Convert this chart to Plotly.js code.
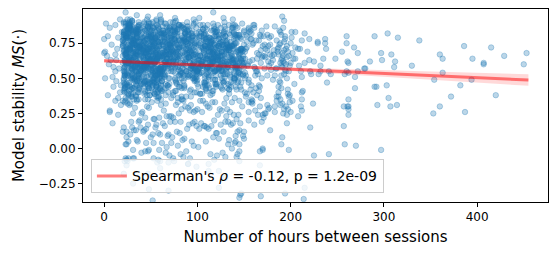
<!DOCTYPE html>
<html>
<head>
<meta charset="utf-8">
<script src="https://cdn.plot.ly/plotly-3.0.1.min.js"></script>
<style>html,body{margin:0;padding:0;background:#fff;}#chart{width:557px;height:255px;}</style>
</head>
<body>
<div id="chart"></div>
<script>
// ---- scatter values (hours between sessions, model stability) ----
const hoursA = [
23,31,27,35,21,38,29,25,33,22,36,28,24,39,30,26,34,21,37,32,
26,22,34,29,40,24,31,20,37,27,33,23,41,28,35,25,30,38,22,36,
30,37,24,21,33,28,39,26,23,35,29,41,22,32,27,36,20,34,25,31,
35,27,22,38,25,31,23,36,28,40,21,33,26,37,24,30,39,23,32,28,
21,33,36,26,30,23,35,39,24,29,37,22,32,25,38,27,34,31,20,26,
28,24,31,37,22,34,27,21,38,25,30,36,23,33,29,40,26,35,22,39,
33,39,25,23,36,21,32,28,35,30,24,38,27,22,34,31,37,24,29,21,
24,30,38,32,27,36,22,33,26,39,28,25,35,31,21,37,23,29,34,40,
37,21,29,34,24,27,40,31,22,36,25,32,30,38,26,23,35,28,33,24,
22,35,33,27,39,30,26,37,32,23,34,29,21,36,28,38,25,31,24,35,
31,26,23,40,28,33,37,24,29,34,22,39,27,30,36,21,32,25,38,27,
38,29,35,25,31,22,28,34,39,26,32,24,36,21,33,30,27,37,23,29];
const stabA = [
.62,.81,.47,.73,.55,.88,.39,.67,.77,.52,.84,.44,.70,.59,.91,.36,.64,.79,.50,.75,
.71,.58,.83,.42,.66,.53,.78,.61,.35,.86,.49,.74,.57,.80,.45,.69,.90,.54,.63,.40,
.56,.76,.64,.89,.48,.72,.60,.38,.82,.68,.51,.79,.43,.65,.87,.58,.74,.46,.85,.69,
.80,.45,.70,.57,.92,.63,.51,.85,.66,.74,.41,.59,.88,.53,.72,.37,.78,.62,.55,.83,
.49,.67,.87,.61,.75,.34,.82,.56,.71,.63,.90,.52,.77,.44,.60,.84,.68,.39,.73,.58,
.65,.54,.77,.83,.40,.69,.88,.47,.59,.79,.57,.72,.36,.86,.64,.50,.61,.81,.46,.76,
.74,.86,.52,.68,.60,.81,.43,.72,.55,.91,.66,.48,.79,.62,.38,.75,.53,.70,.84,.57,
.58,.43,.73,.50,.84,.61,.76,.65,.89,.46,.71,.82,.54,.68,.78,.42,.87,.60,.67,.51,
.83,.70,.60,.78,.47,.88,.56,.74,.42,.67,.80,.35,.63,.73,.52,.89,.48,.77,.59,.66,
.53,.79,.44,.65,.72,.57,.85,.50,.69,.61,.37,.76,.83,.58,.92,.64,.45,.71,.80,.62,
.68,.61,.90,.46,.82,.74,.40,.79,.57,.84,.63,.55,.73,.49,.66,.81,.59,.86,.42,.70,
.77,.50,.66,.86,.59,.45,.71,.55,.81,.39,.75,.68,.48,.90,.56,.73,.62,.52,.78,.85];

const hoursB = [
45,52,48,58,43,55,50,61,46,53,57,44,49,60,51,47,56,42,54,59,
50,44,57,47,53,61,45,49,55,42,58,51,46,54,60,48,43,56,52,47,
55,60,43,51,46,49,58,53,44,57,47,52,61,45,50,56,48,54,42,59,
47,56,53,44,60,51,42,57,49,54,45,59,50,43,55,61,46,52,58,48,
58,49,46,54,50,43,56,45,60,48,52,42,55,57,44,51,59,47,53,50,
43,53,59,49,56,47,52,60,42,51,55,46,58,48,54,44,50,57,45,61,
52,47,55,60,44,58,48,43,54,59,50,56,45,51,62,53,42,49,57,46,
60,54,42,46,52,55,61,50,47,44,56,49,53,58,43,59,51,45,48,55,
49,58,51,43,57,45,54,47,52,61,44,53,48,56,50,42,60,55,46,51,
54,42,60,52,48,59,44,56,50,46,53,57,43,47,58,49,55,61,44,52,
46,51,49,57,42,54,59,48,56,50,61,44,52,55,46,58,47,43,60,53];
const stabB = [
.59,.77,.43,.70,.85,.52,.66,.91,.48,.73,.62,.80,.38,.68,.56,.87,.45,.75,.64,.54,
.82,.48,.67,.58,.74,.41,.88,.63,.53,.79,.36,.71,.60,.84,.50,.69,.77,.44,.90,.57,
.66,.55,.89,.76,.46,.69,.57,.81,.72,.40,.64,.86,.52,.59,.78,.47,.83,.61,.70,.37,
.44,.72,.60,.84,.53,.79,.65,.49,.87,.61,.75,.56,.83,.47,.68,.92,.58,.73,.42,.80,
.76,.63,.51,.39,.81,.58,.73,.68,.42,.90,.55,.46,.79,.71,.35,.62,.50,.86,.67,.74,
.51,.86,.74,.62,.69,.35,.54,.77,.64,.48,.83,.70,.57,.89,.61,.44,.72,.53,.81,.66,
.70,.41,.80,.54,.63,.87,.47,.60,.75,.66,.52,.91,.68,.43,.82,.57,.65,.78,.49,.85,
.63,.78,.56,.92,.45,.67,.82,.53,.71,.57,.88,.62,.40,.76,.59,.73,.84,.48,.68,.52,
.85,.53,.69,.47,.78,.60,.39,.87,.56,.81,.67,.50,.74,.63,.89,.55,.43,.70,.61,.77,
.48,.68,.82,.66,.57,.76,.61,.44,.80,.52,.71,.84,.58,.65,.46,.79,.62,.90,.54,.73,
.74,.60,.46,.80,.71,.50,.85,.64,.37,.69,.58,.77,.87,.55,.72,.41,.66,.59,.83,.49];

const hoursC = [
65,72,68,80,63,76,70,84,66,74,79,64,71,82,69,77,62,75,81,67,
70,64,78,67,83,73,66,80,62,76,69,85,72,65,79,68,74,63,81,71,
76,81,63,73,66,70,84,68,77,64,82,71,67,75,62,79,72,86,65,74,
68,77,74,64,80,62,72,66,83,70,75,63,78,69,84,73,65,80,71,76,
82,69,66,76,71,79,64,74,68,85,63,77,70,81,67,72,78,62,75,66,
63,74,81,70,65,84,76,62,73,67,78,72,64,80,75,66,83,69,77,71,
73,66,71,83,76,68,80,65,79,72,62,74,81,67,70,85,63,77,68,79,
79,84,65,69,74,63,67,78,71,81,66,70,76,64,82,74,69,73,62,80];
const stabC = [
.61,.79,.45,.72,.56,.86,.50,.68,.83,.40,.74,.63,.90,.53,.77,.47,.66,.81,.58,.70,
.75,.52,.84,.64,.43,.70,.60,.88,.55,.78,.67,.48,.73,.62,.85,.57,.38,.76,.65,.82,
.50,.67,.73,.58,.89,.62,.77,.45,.69,.82,.54,.75,.59,.86,.41,.71,.80,.63,.52,.68,
.84,.60,.55,.79,.66,.48,.72,.81,.37,.64,.87,.57,.70,.44,.76,.62,.53,.88,.69,.58,
.66,.80,.62,.49,.74,.83,.57,.63,.76,.52,.68,.91,.46,.72,.60,.81,.65,.55,.78,.43,
.57,.73,.88,.68,.51,.61,.85,.70,.59,.79,.46,.64,.82,.56,.74,.67,.50,.71,.63,.87,
.78,.46,.65,.54,.82,.71,.44,.76,.63,.57,.80,.69,.52,.87,.60,.73,.84,.41,.75,.64,
.69,.57,.76,.85,.60,.53,.67,.80,.72,.47,.62,.74,.83,.66,.55,.90,.59,.70,.48,.77];

const hoursD = [
88,95,91,102,86,99,93,106,89,97,104,87,94,100,90,98,107,92,101,96,
93,87,100,90,105,96,88,103,94,86,99,108,91,97,102,89,95,106,92,98,
99,104,86,95,89,92,107,97,101,87,94,90,103,98,86,105,93,100,88,96,
91,98,106,87,102,88,95,90,98,104,86,101,93,107,96,92,99,87,103,94,
105,90,97,93,99,101,87,94,106,91,102,96,88,104,92,100,86,97,95,89,
87,101,94,104,92,86,103,99,91,95,89,97,106,93,88,102,96,90,100,107];
const stabD = [
.64,.52,.81,.70,.45,.76,.59,.88,.67,.55,.73,.62,.84,.49,.78,.57,.69,.41,.74,.61,
.77,.68,.55,.83,.62,.50,.71,.66,.79,.43,.86,.58,.65,.75,.53,.80,.60,.72,.56,.90,
.53,.80,.69,.59,.87,.64,.47,.74,.61,.82,.57,.70,.39,.67,.85,.62,.76,.55,.64,.72,
.72,.58,.63,.76,.54,.85,.66,.51,.73,.60,.78,.44,.69,.81,.58,.74,.48,.83,.66,.59,
.60,.75,.48,.66,.79,.57,.82,.70,.44,.68,.63,.89,.55,.72,.61,.46,.77,.65,.80,.52,
.82,.63,.73,.54,.69,.77,.58,.62,.85,.50,.74,.67,.59,.42,.71,.80,.63,.87,.56,.68];

const hoursE = [
110,117,113,124,108,121,115,128,111,119,126,109,116,122,112,120,129,114,123,118,
115,109,122,112,127,118,110,125,116,108,121,130,113,119,124,111,117,128,114,120,
121,126,108,117,111,114,129,119,123,109,116,112,125,120,108,127,115,122,110,118,
113,120,128,109,124,110,117,112,120,126,108,123,115,129,118,114,121,109,125,116,
127,112,119,115,121,123,109,116,128,113,124,118,110,126,114,122,108,119,117,111,
109,123,116,126,114,108,125,121,113,117,111,119,128,115,110,124,118,112,122,129,
118,111,125,120,109,127,113,108,119,122,115,126,112,117,123,110,129,116,121,114];
const stabE = [
.66,.54,.79,.71,.47,.83,.60,.74,.88,.56,.69,.42,.77,.63,.51,.81,.67,.58,.73,.85,
.59,.76,.64,.52,.81,.68,.45,.86,.62,.73,.57,.80,.66,.49,.75,.61,.84,.53,.70,.65,
.80,.62,.50,.69,.58,.74,.87,.55,.78,.64,.39,.72,.59,.83,.67,.48,.76,.63,.57,.71,
.56,.72,.83,.61,.75,.53,.67,.79,.46,.70,.82,.58,.64,.90,.55,.73,.60,.77,.44,.68,
.74,.49,.67,.78,.63,.57,.71,.64,.82,.43,.69,.61,.85,.56,.72,.66,.52,.80,.62,.76,
.63,.81,.57,.74,.69,.86,.52,.68,.60,.77,.54,.83,.47,.71,.64,.58,.75,.69,.88,.51,
.70,.58,.76,.45,.65,.61,.79,.73,.55,.67,.84,.50,.72,.62,.78,.57,.66,.41,.74,.60];

const hoursF = [
132,139,135,146,130,143,137,150,133,141,148,131,138,144,134,142,151,136,145,140,
137,131,144,134,149,140,132,147,138,130,143,152,135,141,146,133,139,150,136,142,
143,148,130,139,133,136,151,141,145,131,138,134,147,142,130,149,137,144,132,140,
135,142,150,131,146,132,139,134,142,148,130,145,137,151,140,136,143,131,147,138,
149,134,141,137,143,145,131,138,150,135,146,140,132,148,136,144,130,141,139,133];
const stabF = [
.62,.78,.51,.70,.85,.57,.66,.74,.46,.81,.59,.68,.88,.54,.72,.63,.40,.76,.67,.58,
.73,.55,.68,.82,.60,.49,.77,.64,.71,.57,.86,.52,.65,.79,.44,.70,.61,.83,.56,.75,
.57,.69,.80,.48,.73,.66,.54,.87,.61,.75,.63,.42,.78,.59,.71,.52,.84,.65,.74,.50,
.81,.64,.58,.76,.53,.71,.83,.45,.69,.62,.77,.56,.67,.50,.80,.74,.59,.72,.47,.86,
.66,.72,.44,.63,.79,.55,.70,.61,.84,.52,.68,.75,.58,.89,.64,.48,.73,.57,.82,.60];

const hoursG = [
27,44,33,58,21,49,38,61,25,53,30,46,36,57,23,41,51,34,60,29,
39,24,55,31,47,22,59,35,43,28,52,37,62,26,48,32,56,20,45,40,
50,36,23,42,61,29,46,33,54,21,39,58,27,44,35,53,24,49,31,57,
32,57,47,26,38,54,20,43,29,60,34,48,22,55,40,27,45,59,36,23,
56,30,40,52,25,37,48,21,58,44,26,33,51,38,61,46,28,42,54,35,
21,51,62,37,55,43,31,50,40,24,57,29,45,34,20,60,39,26,48,44,
44,28,35,60,30,58,25,54,33,47,22,61,38,50,27,36,53,31,41,56,
35,61,27,45,52,23,42,57,20,38,49,31,59,24,46,33,62,37,55,28,
59,40,50,22,43,34,56,26,47,32,61,39,24,52,30,57,21,45,28,50,
26,47,56,34,62,41,29,37,52,45,23,55,30,43,58,22,48,35,60,38];
const stabG = [
.63,.75,.58,.81,.69,.47,.72,.56,.85,.66,.52,.78,.61,.70,.44,.83,.59,.74,.67,.55,
.71,.60,.79,.50,.66,.84,.57,.73,.63,.89,.48,.69,.76,.54,.81,.62,.45,.77,.68,.58,
.56,.82,.67,.73,.46,.62,.78,.69,.53,.75,.60,.86,.65,.41,.72,.57,.80,.64,.51,.88,
.77,.53,.70,.62,.85,.59,.66,.48,.74,.57,.82,.64,.55,.79,.69,.90,.61,.51,.76,.67,
.68,.87,.55,.76,.61,.72,.43,.83,.65,.59,.74,.51,.80,.62,.57,.70,.86,.66,.47,.79,
.50,.64,.74,.88,.57,.68,.81,.60,.71,.46,.63,.77,.58,.84,.73,.55,.69,.82,.62,.40,
.84,.70,.49,.65,.78,.54,.61,.75,.58,.80,.67,.45,.72,.63,.87,.52,.76,.59,.70,.64,
.60,.58,.86,.71,.52,.80,.69,.64,.77,.43,.73,.83,.56,.68,.61,.79,.50,.72,.65,.84,
.73,.79,.63,.54,.90,.66,.52,.71,.60,.85,.58,.68,.79,.47,.75,.64,.82,.56,.88,.62,
.65,.45,.77,.83,.64,.73,.59,.87,.49,.69,.81,.62,.53,.76,.66,.58,.71,.85,.57,.74];

const hoursH = [
66,88,109,131,74,97,120,143,70,102,126,81,115,138,92,64,148,79,111,134,
95,118,71,145,84,107,63,129,100,76,141,89,123,67,112,136,86,104,149,73,
127,77,99,65,140,113,91,83,135,119,68,105,147,96,75,124,110,139,87,101,
80,142,116,93,69,130,106,72,122,146,98,85,64,117,133,78,103,128,94,144,
112,65,137,108,121,87,150,96,78,132,114,67,101,140,83,119,72,98,125,90,
73,103,86,124,97,147,69,115,141,89,76,127,109,82,136,99,121,66,144,107,
139,94,128,77,113,68,104,123,85,145,91,118,74,132,106,70,142,116,80,125,
101,131,65,117,144,82,125,90,108,71,137,95,121,149,87,113,63,130,103,76,
84,120,148,99,72,110,135,63,127,104,81,143,67,93,118,139,88,75,111,129,
118,76,92,140,105,124,79,146,96,115,63,131,86,107,71,122,100,144,68,134,
69,137,111,83,129,95,117,74,142,88,123,102,138,78,97,65,126,109,147,91,
133,85,104,70,117,139,93,128,66,119,147,80,105,124,90,141,77,114,86,98,
92,110,76,134,86,101,141,97,115,68,85,137,94,72,129,108,145,83,120,64,
106,149,123,88,64,114,78,109,132,93,126,71,143,116,84,131,96,122,102,139,
77,98,135,113,91,70,128,81,103,140,107,116,65,99,134,75,118,90,127,111];
const stabH = [
.67,.55,.78,.62,.83,.49,.72,.60,.86,.57,.69,.44,.75,.64,.52,.80,.71,.58,.66,.88,
.59,.74,.63,.81,.54,.70,.87,.48,.66,.77,.61,.84,.56,.72,.45,.68,.79,.62,.53,.75,
.76,.62,.51,.69,.88,.57,.65,.80,.73,.46,.83,.59,.70,.54,.78,.63,.41,.74,.67,.60,
.52,.81,.68,.57,.74,.64,.85,.55,.61,.79,.50,.72,.66,.89,.58,.76,.63,.47,.82,.70,
.70,.58,.86,.73,.46,.78,.61,.67,.82,.53,.75,.64,.57,.71,.87,.49,.69,.80,.60,.65,
.84,.66,.56,.79,.62,.71,.50,.76,.58,.68,.90,.55,.73,.61,.47,.82,.65,.72,.54,.77,
.63,.77,.72,.48,.69,.60,.83,.57,.75,.64,.52,.80,.67,.43,.71,.86,.58,.62,.78,.55,
.57,.69,.80,.64,.51,.87,.66,.73,.45,.79,.62,.56,.84,.70,.60,.74,.68,.53,.88,.65,
.79,.52,.61,.75,.68,.56,.72,.84,.63,.59,.77,.47,.70,.82,.65,.54,.76,.69,.58,.83,
.66,.84,.70,.53,.77,.62,.58,.71,.88,.65,.74,.60,.50,.79,.67,.73,.55,.81,.64,.42,
.55,.73,.64,.86,.59,.80,.69,.62,.52,.76,.68,.83,.61,.74,.57,.89,.66,.48,.71,.78,
.72,.60,.82,.67,.49,.73,.57,.79,.68,.85,.63,.71,.54,.66,.81,.59,.75,.62,.44,.69,
.61,.78,.54,.70,.83,.66,.75,.51,.64,.72,.86,.58,.68,.77,.62,.46,.80,.73,.56,.67,
.85,.64,.73,.59,.71,.52,.67,.81,.60,.78,.55,.74,.69,.63,.88,.57,.70,.65,.79,.50,
.68,.56,.62,.77,.65,.84,.59,.72,.75,.50,.81,.61,.78,.55,.70,.64,.87,.53,.66,.73];

const hoursLow = [
22,100,61,139,35,113,74,28,126,87,54,145,41,119,67,93,132,80,106,48,
96,25,142,57,83,31,116,70,148,44,103,64,129,38,90,51,122,77,135,109,
46,131,20,92,66,118,33,105,79,144,27,59,124,85,40,111,53,137,72,98,
63,24,108,141,37,89,150,56,121,30,76,134,43,95,69,115,50,82,128,102,
120,47,86,21,133,60,99,34,146,73,112,29,68,125,42,94,138,55,81,107,
39,117,71,143,26,91,58,130,84,32,104,149,65,45,123,97,78,136,52,110,
27,88,52,131,43,109,66,147,35,97,120,58,76,140,22,103,84,127,46,69,
114,31,79,55,136,93,24,61,142,105,38,72,126,49,99,83,117,29,134,64,
23,44,62,85,101,127,36,58,79,114,140,48,92,133,70,
31,53,75,96,121,145,40,67,88,109,26,57,118,82,137,
24,47,31,60,69,90,112,130,145,52,99,123];
const stabLow = [
.33,.28,.31,.24,.34,.29,.22,.32,.27,.30,.21,.34,.26,.33,.23,.31,.28,.25,.34,.29,
.26,.32,.21,.34,.28,.25,.33,.23,.30,.22,.34,.27,.32,.20,.29,.33,.24,.31,.26,.32,
.30,.23,.34,.27,.32,.20,.29,.26,.33,.24,.31,.22,.28,.34,.25,.30,.21,.33,.23,.27,
.18,.12,.16,.09,.19,.14,.07,.17,.11,.15,.19,.06,.13,.18,.10,.16,.08,.19,.12,.14,
.11,.17,.07,.15,.19,.10,.16,.13,.18,.08,.14,.19,.09,.17,.12,.05,.18,.15,.11,.16,
.15,.08,.19,.12,.05,.17,.11,.19,.06,.13,.18,.09,.16,.14,.07,.19,.12,.17,.10,.15,
.41,.37,.44,.36,.39,.43,.38,.42,.35,.40,.44,.37,.41,.36,.43,.39,.35,.42,.38,.40,
.38,.43,.36,.41,.44,.37,.40,.35,.42,.39,.44,.36,.43,.38,.40,.35,.41,.37,.39,.42,
.03,-.02,.04,-.06,.01,-.03,.05,-.08,.02,-.04,.04,-.01,-.07,.03,-.05,
-.01,.04,-.09,.02,-.05,.03,-.03,.01,-.02,.05,-.07,-.10,-.08,-.04,.00,
-.12,-.18,-.25,-.14,-.30,-.11,-.16,-.21,-.35,-.37,-.13,-.28];

const hoursMid = [
153,161,157,170,155,166,159,175,163,152,168,172,158,164,177,154,169,162,174,160,
156,171,165,153,178,160,167,173,154,162,176,158,169,151,164,179,157,166,172,155,
186,192,189,195,187,193,190,197,188,194,191,196,185,192,190,198,189,194,187,193,
191,188,196,190,193,186,195,189,192,197,187,194,190,185,196,191,188,193,195,189,
181,200,183,202,179,199,182,204,180,201,184,203,178,198,183,200,181,205,199,182,
157,168,175,162,153,171,159,166,177,164,155,173,160,169,152,176,163,158,170,167,
151,163,172,156,168,179,159,175,153,166,161,177,170,155,173,158,164,152,176,167,
189,193,187,196,191,185,195,190,183,197];
const stabMid = [
.72,.58,.84,.66,.49,.77,.63,.70,.55,.81,.61,.74,.45,.68,.79,.59,.65,.52,.87,.75,
.62,.80,.53,.76,.67,.88,.44,.71,.60,.57,.73,.82,.50,.69,.64,.56,.78,.41,.66,.85,
.71,.62,.83,.55,.67,.76,.59,.69,.48,.80,.64,.73,.57,.86,.52,.66,.61,.78,.44,.70,
.58,.74,.65,.81,.53,.69,.60,.75,.66,.42,.72,.56,.63,.77,.50,.68,.84,.61,.71,.47,
.63,.75,.52,.68,.80,.59,.70,.46,.66,.83,.57,.64,.74,.55,.87,.61,.49,.72,.38,.67,
.42,.36,.31,.27,.39,.22,.34,.45,.29,.38,.33,.25,.40,.19,.37,.28,.43,.35,.24,.30,
.64,.77,.57,.83,.70,.61,.74,.52,.80,.67,.86,.59,.73,.47,.65,.78,.55,.71,.62,.81,
.35,.28,.40,.24,.32,.37,.30,.43,.26,.39];

const hoursLeft = [2,0,4,6,12,8,1,3,10,12,1,9,13,4,12,15,6,9,15,18,17,15,13,12,18,20,24,24,32,22,21,0,23,14,5,17,10,19,16,7];
const stabLeft = [.89,.78,.80,.86,.88,.74,.69,.66,.58,.67,.50,.51,.48,.38,.34,.36,.27,.18,.24,.31,.92,.79,.63,.55,.45,.12,.08,-.08,-.07,-.09,-.18,.68,.97,.71,.60,.40,.44,.83,.57,.63];

const hoursTail = [
191,193,205,215,237,260,260,290,304,315,
338,386,415,453,429,395,407,407,360,363,
330,308,312,311,298,297,285,279,450,363,
354,382,394,372,420,360,353,387,303,290,
292,269,305,307,314,293,262,262,262,257,
269,280,239,243,257,221,196,248,255,272,
268,261,262,262,232,235,237,238,229,212,
210,218,220,225,215,222,230,212,213,212,
224,212,208,200,199,198,187,192,197,189,
191,190,198,225,241,258,270,297,194,215,
214,155,161,169,168,175,201,220,229,272,
260,258,241,232,221,211,209,205,208,212,
211,202,172,161,178,170,167,145,142,141,
150,145,155,155,159,158,165,183,185,261,
262,145,168,147,6,24,23,25,31,47,
53,60,69,74,66,72,59,45,35,28,
48,143,167,170,90,112,130,123,146,117,
89,102,138,60,47,76,35,56,128,96];
const stabTail = [
.94,.91,.83,.82,.78,.80,.75,.80,.82,.79,
.77,.73,.72,.68,.66,.64,.61,.60,.67,.64,
.59,.67,.62,.58,.63,.68,.62,.57,.60,.54,
.49,.45,.49,.37,.38,.30,.25,.26,.45,.44,
.44,.43,.36,.30,.31,.31,.35,.30,.28,.30,
.51,.57,.47,.53,.16,.15,.18,.64,.69,.68,
.72,.62,.61,.54,.59,.64,.75,.71,.75,.77,
.71,.69,.63,.62,.61,.53,.53,.51,.41,.35,
.32,.27,.23,.26,.33,.37,.37,.25,.28,.31,
.08,.03,-.01,-.05,-.04,.03,.02,-.01,-.32,-.28,
-.36,.86,.88,.84,.80,.81,.79,.78,.76,.55,
.55,.53,.55,.55,.55,.55,.59,.64,.71,.40,
.30,.34,.25,.17,.13,-.01,-.02,-.02,-.06,.05,
.12,.13,.20,.26,.32,.33,.24,.30,.34,.30,
.24,-.09,-.34,-.32,.26,.03,-.07,-.09,-.07,-.02,
-.07,-.09,-.10,-.07,-.03,.04,-.01,.04,.06,.10,
-.29,-.04,-.12,.00,-.11,-.11,-.06,-.16,-.33,.97,
.90,.93,.92,.95,.94,.93,.95,.92,.93,.92];

// ---- regression line with confidence band ----
const fitHours = [0, 50, 100, 150, 200, 250, 300, 350, 400, 455];
const fitMean  = [0.625, 0.610, 0.595, 0.580, 0.565, 0.550, 0.535, 0.520, 0.505, 0.488];
const fitLower = [0.613, 0.601, 0.588, 0.572, 0.553, 0.533, 0.512, 0.491, 0.470, 0.447];
const fitUpper = [0.637, 0.619, 0.602, 0.588, 0.577, 0.567, 0.558, 0.549, 0.540, 0.529];

const legendLabel = "Spearman's <i>ρ</i> = -0.12, p = 1.2e-09";

const hours = [].concat(hoursA, hoursB, hoursC, hoursD, hoursE, hoursF, hoursG, hoursH, hoursLow, hoursMid, hoursLeft, hoursTail);
const stability = [].concat(stabA, stabB, stabC, stabD, stabE, stabF, stabG, stabH, stabLow, stabMid, stabLeft, stabTail);

const FONT = 'DejaVu Sans, sans-serif';

const traces = [
  {
    type: 'scatter', mode: 'markers', x: hours, y: stability, showlegend: false, hoverinfo: 'skip',
    marker: { size: 5.5, color: 'rgba(31,119,180,0.3)', line: { color: 'rgba(31,119,180,0.3)', width: 1 } }
  },
  {
    type: 'scatter', mode: 'lines', x: fitHours, y: fitLower, showlegend: false, hoverinfo: 'skip',
    line: { width: 0, color: 'rgba(0,0,0,0)' }
  },
  {
    type: 'scatter', mode: 'lines', x: fitHours, y: fitUpper, showlegend: false, hoverinfo: 'skip',
    fill: 'tonexty', fillcolor: 'rgba(255,0,0,0.15)', line: { width: 0, color: 'rgba(0,0,0,0)' }
  },
  {
    type: 'scatter', mode: 'lines', x: fitHours, y: fitMean, name: legendLabel, showlegend: true,
    line: { width: 3, color: 'rgba(255,0,0,0.5)' }
  }
];

const axisCommon = {
  showgrid: false, zeroline: false, showline: true, mirror: true,
  linecolor: '#000', linewidth: 1, ticks: 'outside', ticklen: 4, tickwidth: 1, tickcolor: '#000',
  tickfont: { family: FONT, size: 12, color: '#000' }
};

const layout = {
  width: 557, height: 255,
  margin: { l: 83, r: 9, t: 9, b: 53, pad: 0 },
  paper_bgcolor: '#fff', plot_bgcolor: '#fff',
  font: { family: FONT, color: '#000' },
  xaxis: Object.assign({}, axisCommon, {
    range: [-22.7, 476], tick0: 0, dtick: 100,
    title: { text: 'Number of hours between sessions', font: { family: FONT, size: 15, color: '#000' }, standoff: 8 }
  }),
  yaxis: Object.assign({}, axisCommon, {
    range: [-0.381, 0.994], tick0: 0, dtick: 0.25, tickformat: '.2f',
    title: { text: 'Model stability <i>MS</i>(·)', font: { family: FONT, size: 15, color: '#000' }, standoff: 10 }
  }),
  legend: {
    x: 0.017, y: 0.045, xanchor: 'left', yanchor: 'bottom',
    bgcolor: 'rgba(255,255,255,0.8)', bordercolor: '#cccccc', borderwidth: 1,
    font: { family: FONT, size: 14, color: '#000' }, itemwidth: 30
  }
};

Plotly.newPlot('chart', traces, layout, { displayModeBar: false, staticPlot: true });
</script>
</body>
</html>
